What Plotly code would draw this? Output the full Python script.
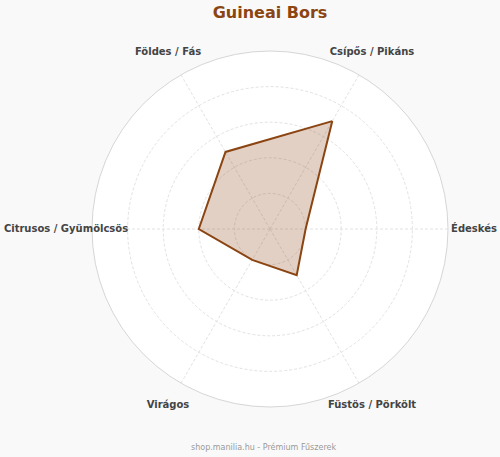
import plotly.graph_objects as go

# flavour profile, 0-10 scale
categories = ['Csípős / Pikáns', 'Édeskés', 'Füstös / Pörkölt',
              'Virágos', 'Citrusos / Gyümölcsös', 'Földes / Fás']
values = [7, 2, 3, 2, 4, 5]

title_text = 'Guineai Bors'
footer_text = 'shop.manilia.hu - Prémium Fűszerek'

brown = '#8B4513'
W, H = 500, 457
cx, cy, R = 270, 228, 178   # chart centre (px from left / bottom) and radius
R_lab = 204                 # radius of the circle the category labels sit on


def dom(rad):
    return dict(x=[(cx - rad) / W, (cx + rad) / W],
                y=[(cy - rad) / H, (cy + rad) / H])


fig = go.Figure()
fig.add_trace(go.Scatterpolar(
    r=values + values[:1],
    theta=categories + categories[:1],
    mode='lines',
    fill='toself',
    fillcolor='rgba(139,69,19,0.25)',
    line=dict(color=brown, width=2),
    hoverinfo='skip',
))

# category labels on a bigger, invisible polar so they are centred on their spoke
fig.add_trace(go.Scatterpolar(
    r=[10] * len(categories),
    theta=categories,
    mode='text',
    text=['<b>' + c + '</b>' for c in categories],
    textposition='middle center',
    textfont=dict(size=10, color='#444444', family='DejaVu Sans'),
    cliponaxis=False,
    hoverinfo='skip',
    subplot='polar2',
))

angular_common = dict(rotation=60, direction='clockwise', ticks='')

fig.update_layout(
    width=W,
    height=H,
    paper_bgcolor='#f9f9f9',
    font=dict(family='DejaVu Sans', color='#444444'),
    margin=dict(l=0, r=0, t=0, b=0),
    showlegend=False,
    title=dict(
        text='<b>' + title_text + '</b>',
        x=cx / W, xref='paper', xanchor='center',
        y=1 - 12 / H, yref='container', yanchor='middle',
        font=dict(size=16, color=brown, family='DejaVu Sans'),
    ),
    polar=dict(
        domain=dom(R),
        bgcolor='white',
        radialaxis=dict(
            range=[0, 10],
            dtick=2,
            showticklabels=False,
            ticks='',
            showline=False,
            gridcolor='#e2e2e2',
            griddash='3px,2px',
            gridwidth=1,
        ),
        angularaxis=dict(
            gridcolor='#e2e2e2',
            griddash='3px,2px',
            linecolor='#d6d6d6',
            linewidth=1,
            showticklabels=False,
            **angular_common,
        ),
    ),
    polar2=dict(
        domain=dom(R_lab),
        bgcolor='rgba(0,0,0,0)',
        radialaxis=dict(range=[0, 10], visible=False),
        angularaxis=dict(
            showgrid=False, showline=False, showticklabels=False,
            **angular_common,
        ),
    ),
    annotations=[dict(
        text=footer_text,
        x=0.5 * (190 + 336) / W, xref='paper', xanchor='center',
        y=10 / H, yref='paper', yanchor='middle',
        showarrow=False,
        font=dict(size=8, color='#999999'),
    )],
)

fig.write_html('out.html', config={'displayModeBar': False},
               post_script="document.body.style.margin='0';")
